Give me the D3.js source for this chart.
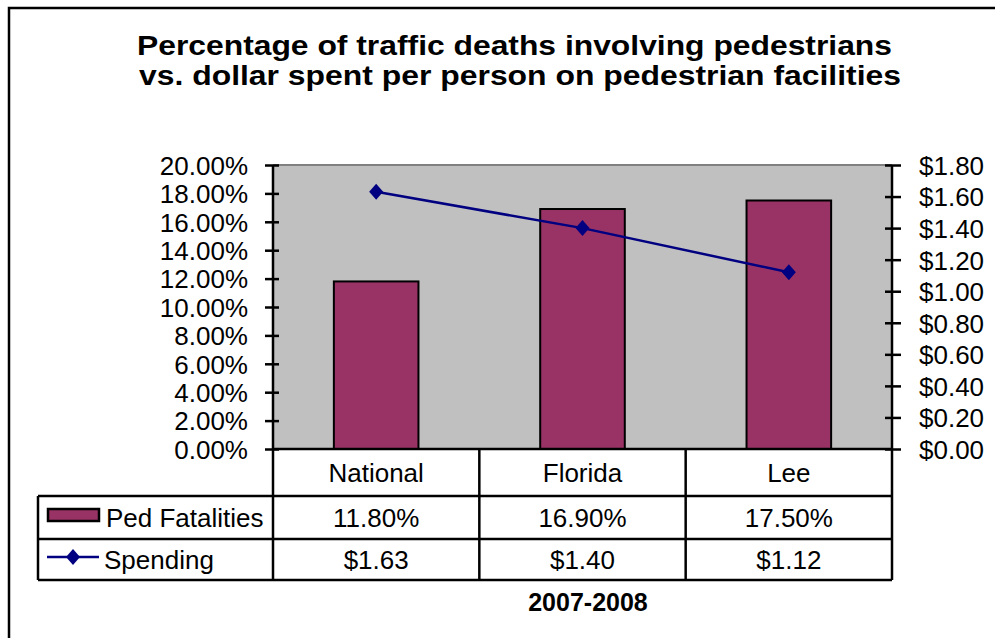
<!DOCTYPE html>
<html>
<head>
<meta charset="utf-8">
<script src="https://cdn.jsdelivr.net/npm/d3@7"></script>
<style>
  body { margin: 0; background: #fff; }
  text { font-family: "Liberation Sans", Arial, sans-serif; fill: #000; }
</style>
</head>
<body>
<div id="chart"></div>
<script>
// chart data
var categories = ["National", "Florida", "Lee"];
var pedFatalities = [11.8, 16.9, 17.5];   // percent
var spending = [1.63, 1.40, 1.12];        // dollars per person
var seriesNames = ["Ped Fatalities", "Spending"];
var titleLines = ["Percentage of traffic deaths involving pedestrians",
                  "vs. dollar spent per person on pedestrian facilities"];
var xTitle = "2007-2008";

var W = 995, H = 638;
var plot = {left: 273, right: 892, top: 165, bottom: 449};
var rowY = [449, 496, 539, 580];   // table row lines
var tableLeft = 38;

var svg = d3.select("#chart").append("svg")
  .attr("width", W)
  .attr("height", H);

// outer frame
svg.append("rect")
  .attr("x", 9).attr("y", 8)
  .attr("width", W + 20).attr("height", H + 20)
  .attr("fill", "#fff")
  .attr("stroke", "#000")
  .attr("stroke-width", 2.5);

// title, stretched a bit wide like the original
var titleX = [137, 139], titleLen = [755, 762];
svg.selectAll(".title")
  .data(titleLines)
  .enter().append("text")
  .attr("class", "title")
  .attr("x", function (d, i) { return titleX[i]; })
  .attr("y", function (d, i) { return 55 + i * 30; })
  .attr("textLength", function (d, i) { return titleLen[i]; })
  .attr("lengthAdjust", "spacingAndGlyphs")
  .style("font-weight", "bold")
  .style("font-size", "28px")
  .text(function (d) { return d; });

// scales
var x = d3.scaleBand()
  .domain(categories)
  .range([plot.left, plot.right]);

var yLeft = d3.scaleLinear()
  .domain([0, 20])
  .range([plot.bottom, plot.top]);

var yRight = d3.scaleLinear()
  .domain([0, 1.8])
  .range([plot.bottom, plot.top]);

// plot background
svg.append("rect")
  .attr("x", plot.left).attr("y", plot.top)
  .attr("width", plot.right - plot.left)
  .attr("height", plot.bottom - plot.top)
  .attr("fill", "#c0c0c0");

svg.append("line")
  .attr("x1", plot.left).attr("x2", plot.right)
  .attr("y1", plot.top).attr("y2", plot.top)
  .attr("stroke", "#808080")
  .attr("stroke-width", 2);

// bars
var barW = x.bandwidth() * 0.41;
svg.selectAll(".bar")
  .data(pedFatalities)
  .enter().append("rect")
  .attr("class", "bar")
  .attr("x", function (d, i) { return x(categories[i]) + (x.bandwidth() - barW) / 2; })
  .attr("y", function (d) { return yLeft(d); })
  .attr("width", barW)
  .attr("height", function (d) { return yLeft(0) - yLeft(d); })
  .attr("fill", "#993366")
  .attr("stroke", "#000")
  .attr("stroke-width", 2);

// axes
var fmtPct = d3.format(".2f");
var leftAxis = d3.axisLeft(yLeft)
  .ticks(10)
  .tickSizeInner(8)
  .tickSizeOuter(0)
  .tickPadding(17)
  .tickFormat(function (d) { return fmtPct(d) + "%"; });

var rightAxis = d3.axisRight(yRight)
  .ticks(9)
  .tickSizeInner(9)
  .tickSizeOuter(0)
  .tickPadding(18)
  .tickFormat(function (d) { return "$" + fmtPct(d); });

function styleAxis(g, inner) {
  g.select(".domain").remove();
  g.selectAll(".tick line")
    .attr("stroke", "#000")
    .attr("stroke-width", 2.5)
    .attr("x1", inner);
  g.selectAll(".tick text")
    .style("font-family", "'Liberation Sans', Arial, sans-serif")
    .style("font-size", "26px")
    .attr("dy", "0.36em");
}

svg.append("g")
  .attr("transform", "translate(" + plot.left + ",0)")
  .call(leftAxis)
  .call(styleAxis, 6);

svg.append("g")
  .attr("transform", "translate(" + plot.right + ",0)")
  .call(rightAxis)
  .call(styleAxis, -7);

// spending line
var line = d3.line()
  .x(function (d, i) { return x(categories[i]) + x.bandwidth() / 2; })
  .y(function (d) { return yRight(d); });

svg.append("path")
  .datum(spending)
  .attr("d", line)
  .attr("fill", "none")
  .attr("stroke", "#000080")
  .attr("stroke-width", 2.5);

var diamond = "M0,-8L7,0L0,8L-7,0Z";
svg.selectAll(".marker")
  .data(spending)
  .enter().append("path")
  .attr("class", "marker")
  .attr("d", diamond)
  .attr("transform", function (d, i) {
    return "translate(" + (x(categories[i]) + x.bandwidth() / 2) + "," + yRight(d) + ")";
  })
  .attr("fill", "#000080");

// data table
var table = svg.append("g");
var lineAttrs = function (sel) {
  sel.attr("stroke", "#000").attr("stroke-width", 2.5);
};

// horizontal rules
table.append("line").call(lineAttrs)
  .attr("x1", plot.left).attr("x2", plot.right)
  .attr("y1", rowY[0]).attr("y2", rowY[0]);
[1, 2, 3].forEach(function (r) {
  table.append("line").call(lineAttrs)
    .attr("x1", tableLeft).attr("x2", plot.right)
    .attr("y1", rowY[r]).attr("y2", rowY[r]);
});

// vertical rules
table.append("line").call(lineAttrs)
  .attr("x1", tableLeft).attr("x2", tableLeft)
  .attr("y1", rowY[1]).attr("y2", rowY[3]);
categories.forEach(function (c) {
  table.append("line").call(lineAttrs)
    .attr("x1", x(c)).attr("x2", x(c))
    .attr("y1", x(c) === plot.left ? plot.top : rowY[0]).attr("y2", rowY[3]);
});
table.append("line").call(lineAttrs)
  .attr("x1", plot.right).attr("x2", plot.right)
  .attr("y1", plot.top).attr("y2", rowY[3]);

// cells
var cellFont = "26px";
var rows = [
  categories,
  pedFatalities.map(function (d) { return fmtPct(d) + "%"; }),
  spending.map(function (d) { return "$" + fmtPct(d); })
];
rows.forEach(function (vals, r) {
  table.selectAll(".row" + r)
    .data(vals)
    .enter().append("text")
    .attr("x", function (d, i) { return x(categories[i]) + x.bandwidth() / 2; })
    .attr("y", (rowY[r] + rowY[r + 1]) / 2)
    .attr("dy", "0.36em")
    .attr("text-anchor", "middle")
    .style("font-size", cellFont)
    .text(function (d) { return d; });
});

// legend keys in first column
table.append("rect")
  .attr("x", 48).attr("y", 509)
  .attr("width", 51).attr("height", 12)
  .attr("fill", "#993366")
  .attr("stroke", "#000")
  .attr("stroke-width", 2.5);

table.append("line")
  .attr("x1", 47).attr("x2", 99)
  .attr("y1", 557).attr("y2", 557)
  .attr("stroke", "#000080")
  .attr("stroke-width", 2.5);
table.append("path")
  .attr("d", diamond)
  .attr("transform", "translate(73,557)")
  .attr("fill", "#000080");

table.selectAll(".series")
  .data(seriesNames)
  .enter().append("text")
  .attr("x", function (d, i) { return i === 0 ? 106 : 104; })
  .attr("y", function (d, i) { return (rowY[i + 1] + rowY[i + 2]) / 2; })
  .attr("dy", "0.36em")
  .style("font-size", cellFont)
  .text(function (d) { return d; });

// category axis title
svg.append("text")
  .attr("x", 588)
  .attr("y", 611)
  .attr("text-anchor", "middle")
  .style("font-weight", "bold")
  .style("font-size", "25px")
  .text(xTitle);
</script>
</body>
</html>
